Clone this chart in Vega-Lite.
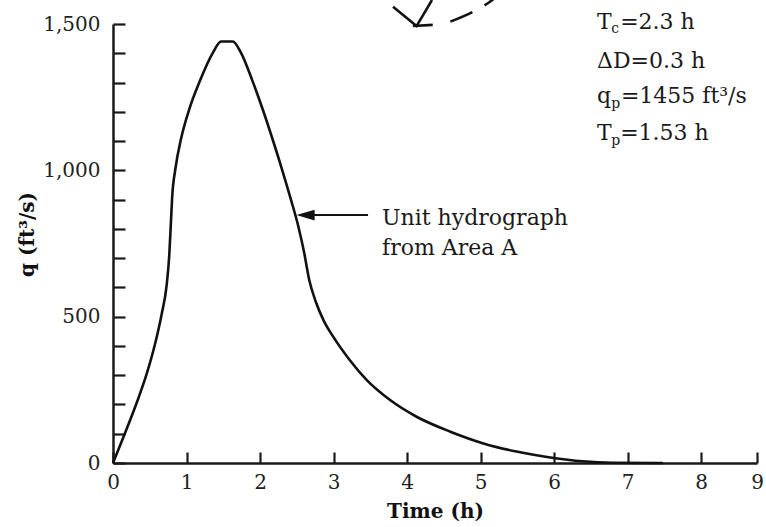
{
  "$schema": "https://vega.github.io/schema/vega-lite/v6.json",
  "width": 644,
  "height": 439,
  "autosize": "none",
  "padding": {"left": 113, "top": 24, "right": 9, "bottom": 64},
  "background": "#ffffff",
  "config": {
    "view": {"stroke": null},
    "font": "DejaVu Serif",
    "axis": {
      "grid": false,
      "domainColor": "#1a1a1a",
      "domainWidth": 2.5,
      "tickColor": "#1a1a1a",
      "tickWidth": 2.2,
      "labelColor": "#222222",
      "labelFont": "DejaVu Serif",
      "labelFontSize": 20,
      "titleColor": "#111111",
      "titleFont": "DejaVu Serif",
      "titleFontSize": 20,
      "titleFontWeight": "bold",
      "labelFlush": false,
      "labelOverlap": false
    }
  },
  "datasets": {
    "curve": [
      {"t": 0, "q": 0},
      {"t": 0.16, "q": 100},
      {"t": 0.32, "q": 204},
      {"t": 0.46, "q": 306},
      {"t": 0.57, "q": 405},
      {"t": 0.66, "q": 506},
      {"t": 0.73, "q": 608},
      {"t": 0.765, "q": 708},
      {"t": 0.785, "q": 807},
      {"t": 0.805, "q": 908},
      {"t": 0.85, "q": 1007},
      {"t": 0.925, "q": 1107},
      {"t": 1.034, "q": 1206},
      {"t": 1.18, "q": 1304},
      {"t": 1.36, "q": 1402},
      {"t": 1.47, "q": 1440},
      {"t": 1.63, "q": 1440},
      {"t": 1.74, "q": 1402},
      {"t": 1.9, "q": 1304},
      {"t": 2.04, "q": 1206},
      {"t": 2.17, "q": 1107},
      {"t": 2.295, "q": 1007},
      {"t": 2.415, "q": 905},
      {"t": 2.52, "q": 810},
      {"t": 2.6, "q": 720},
      {"t": 2.67, "q": 625},
      {"t": 2.76, "q": 550},
      {"t": 2.87, "q": 485},
      {"t": 3.0, "q": 430},
      {"t": 3.22, "q": 352},
      {"t": 3.45, "q": 284},
      {"t": 3.77, "q": 215},
      {"t": 4.13, "q": 158},
      {"t": 4.59, "q": 107},
      {"t": 5.04, "q": 67},
      {"t": 5.49, "q": 39},
      {"t": 5.95, "q": 19},
      {"t": 6.39, "q": 6},
      {"t": 6.8, "q": 1},
      {"t": 7.48, "q": 0}
    ],
    "vee": [
      {"seg": "a", "t": 3.81, "q": 1559},
      {"seg": "a", "t": 4.13, "q": 1493},
      {"seg": "a", "t": 4.34, "q": 1582},
      {"seg": "b", "t": 4.08, "q": 1493},
      {"seg": "b", "t": 4.35, "q": 1497}
    ],
    "dashed": [
      {"t": 4.59, "q": 1508},
      {"t": 4.9, "q": 1542},
      {"t": 5.1, "q": 1571},
      {"t": 5.25, "q": 1600}
    ],
    "arrow": [
      {"t": 2.62, "t2": 3.47, "q": 847}
    ],
    "head": [
      {"t": 2.62, "q": 847}
    ],
    "mainText": [
      {"t": 6.585, "q": 1483, "text": "T"},
      {"t": 6.9, "q": 1483, "text": "=2.3 h"},
      {"t": 6.585, "q": 1349, "text": "ΔD=0.3 h"},
      {"t": 6.585, "q": 1230, "text": "q"},
      {"t": 6.91, "q": 1230, "text": "=1455 ft³/s"},
      {"t": 6.585, "q": 1103, "text": "T"},
      {"t": 6.9, "q": 1103, "text": "=1.53 h"},
      {"t": 3.66, "q": 813, "text": "Unit hydrograph"},
      {"t": 3.66, "q": 711, "text": "from Area A"}
    ],
    "subText": [
      {"t": 6.78, "q": 1469, "text": "c"},
      {"t": 6.78, "q": 1213, "text": "p"},
      {"t": 6.78, "q": 1086, "text": "p"}
    ]
  },
  "encoding": {
    "x": {
      "field": "t", "type": "quantitative",
      "scale": {"domain": [0, 8, 9], "range": [0, 588, 644], "nice": false, "zero": false},
      "axis": {
        "values": [0, 1, 2, 3, 4, 5, 6, 7, 8, 9],
        "format": "d",
        "tickSize": -11,
        "labelPadding": 20,
        "title": "Time (h)",
        "titleBaseline": "alphabetic",
        "titleY": 54
      }
    },
    "y": {
      "field": "q", "type": "quantitative",
      "scale": {"domain": [0, 1500], "nice": false},
      "axis": {
        "values": [0, 100, 200, 300, 400, 500, 600, 700, 800, 900, 1000, 1100, 1200, 1300, 1400, 1500],
        "labelExpr": "datum.value % 500 == 0 ? format(datum.value, ',') : ''",
        "tickSize": -12,
        "labelPadding": 25,
        "title": "q (ft³/s)",
        "titleBaseline": "alphabetic",
        "titleX": -80,
        "titleY": 210
      }
    }
  },
  "layer": [
    {
      "data": {"name": "curve"},
      "mark": {"type": "line", "color": "#111111", "strokeWidth": 2.6, "interpolate": "monotone"}
    },
    {
      "data": {"name": "vee"},
      "mark": {"type": "line", "color": "#111111", "strokeWidth": 2.6, "clip": false},
      "encoding": {
        "detail": {"field": "seg"}
      }
    },
    {
      "data": {"name": "dashed"},
      "mark": {"type": "line", "color": "#111111", "strokeWidth": 2.6, "strokeDash": [24, 14], "interpolate": "monotone", "clip": false},
      "encoding": {}
    },
    {
      "data": {"name": "arrow"},
      "mark": {"type": "rule", "color": "#111111", "strokeWidth": 2},
      "encoding": {
        "x2": {"field": "t2"}
      }
    },
    {
      "data": {"name": "head"},
      "mark": {"type": "point", "shape": "M-1,0L1,-0.6L1,0.6Z", "filled": true, "color": "#111111", "size": 330, "opacity": 1}
    },
    {
      "data": {"name": "mainText"},
      "mark": {"type": "text", "align": "left", "baseline": "alphabetic", "fontSize": 22, "color": "#1a1a1a", "font": "DejaVu Serif"},
      "encoding": {
        "text": {"field": "text"}
      }
    },
    {
      "data": {"name": "subText"},
      "mark": {"type": "text", "align": "left", "baseline": "alphabetic", "fontSize": 14, "color": "#1a1a1a", "font": "DejaVu Serif"},
      "encoding": {
        "text": {"field": "text"}
      }
    }
  ]
}
